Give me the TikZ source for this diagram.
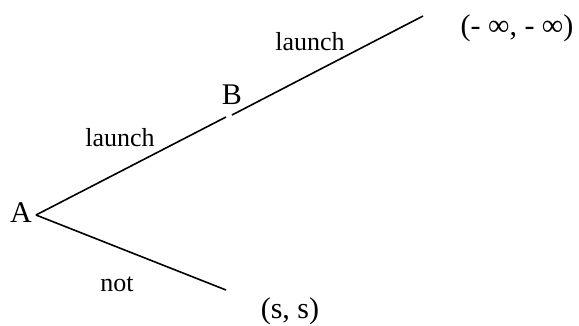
\documentclass[tikz,border=0pt]{standalone}
\usepackage{fontspec}
\setmainfont{Liberation Serif}
\begin{document}
\begin{tikzpicture}[x=1pt,y=-1pt,
  edge/.style={line width=1.6pt, line cap=butt},
  player/.style={anchor=base, inner sep=0pt, font=\fontsize{30}{34}\selectfont},
  lbl/.style={anchor=base, inner sep=0pt, font=\fontsize{26}{30}\selectfont},
  payoff/.style={anchor=base, inner sep=0pt, font=\fontsize{30}{34}\selectfont}]
\useasboundingbox (0,0) rectangle (579,325);
\coordinate (a0) at (36,215);
\coordinate (b1) at (226,117);
\coordinate (b2) at (232,115);
\coordinate (e1) at (423,16);
\coordinate (e2) at (226,290);
\node[player] (A) at (21,222) {A};
\node[player] (B) at (232,104) {B};
\node[lbl] (l1) at (120,146) {launch};
\node[lbl] (l2) at (310,50) {launch};
\node[lbl] (n1) at (117,291) {not};
\node[payoff] (p1) at (517,35) {(- ∞, - ∞)};
\node[payoff] (p2) at (290,318) {(s, s)};
\draw[edge] (a0) -- (b1);
\draw[edge] (b2) -- (e1);
\draw[edge] (a0) -- (e2);
\end{tikzpicture}
\end{document}
